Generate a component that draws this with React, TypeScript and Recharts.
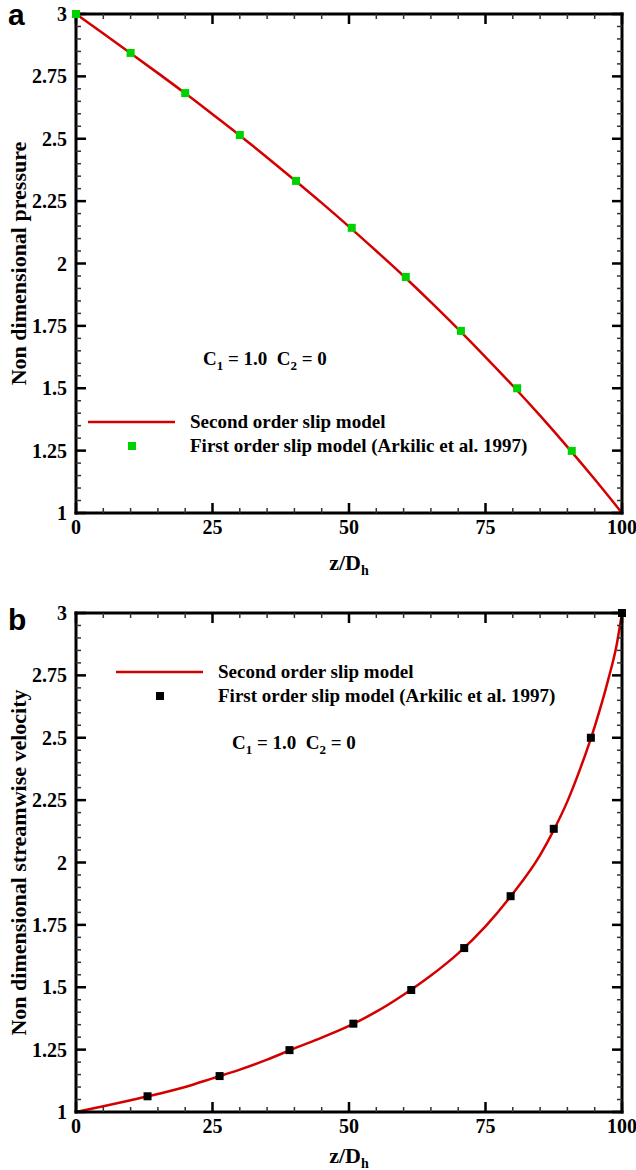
import React from "react";
import { ComposedChart, Line, Scatter, XAxis, YAxis, Legend } from "recharts";

// panel a: non dimensional pressure
const pressureCurveX = [0, 5, 10, 15, 20, 25, 30, 35, 40, 45, 50, 55, 60, 65, 70, 75, 80, 85, 90, 95, 100];
const pressureCurveY = [3, 2.922, 2.843, 2.763, 2.682, 2.598, 2.513, 2.425, 2.335, 2.243, 2.148, 2.05, 1.95, 1.845, 1.737, 1.625, 1.51, 1.39, 1.265, 1.135, 1];
const pressurePointX = [0, 10, 20, 30, 40.3, 50.5, 60.4, 70.5, 80.8, 90.8];
const pressurePointY = [3, 2.844, 2.683, 2.515, 2.331, 2.143, 1.946, 1.73, 1.5, 1.249];

// panel b: non dimensional streamwise velocity
const velocityCurveX = [0, 5, 10, 15, 20, 25, 30, 35, 40, 45, 50, 55, 60, 65, 70, 75, 80, 85, 87.5, 90, 92.5, 95, 97.5, 99, 100];
const velocityCurveY = [1, 1.023, 1.047, 1.072, 1.1, 1.135, 1.17, 1.21, 1.255, 1.298, 1.345, 1.402, 1.47, 1.547, 1.636, 1.744, 1.875, 2.03, 2.13, 2.245, 2.385, 2.545, 2.735, 2.87, 3];
const velocityPointX = [13.1, 26.3, 39.1, 50.8, 61.4, 71.1, 79.6, 87.5, 94.3, 100];
const velocityPointY = [1.063, 1.144, 1.248, 1.354, 1.489, 1.657, 1.865, 2.135, 2.5, 3];

const xTicks = [0, 25, 50, 75, 100];
const yTicks = [1, 1.25, 1.5, 1.75, 2, 2.25, 2.5, 2.75, 3];
const xMinor = Array.from({ length: 21 }, (_, i) => i * 5);
const yMinor = Array.from({ length: 41 }, (_, i) => +(1 + i * 0.05).toFixed(2));

const seriesNames = ["Second order slip model", "First order slip model (Arkilic et al. 1997)"];

const FONT = '"Liberation Serif", "Times New Roman", serif';
const RED = "#d40000";

const frame = { stroke: "#000", strokeWidth: 3, strokeLinecap: "square" as const };
const labelTick = { fill: "#000", fontSize: 20, fontWeight: "bold", fontFamily: FONT };

const isMajorX = (v: number) => v % 25 === 0;
const isMajorY = (v: number) => Math.abs(v * 4 - Math.round(v * 4)) < 1e-6;

// tick mark positions along the four edges of the frame
const bottomMarks = xMinor.map((v) => ({ x: v, y: 1, major: isMajorX(v) }));
const topMarks = xMinor.map((v) => ({ x: v, y: 3, major: isMajorX(v) }));
const leftMarks = yMinor.map((v) => ({ x: 0, y: v, major: isMajorY(v) }));
const rightMarks = yMinor.map((v) => ({ x: 100, y: v, major: isMajorY(v) }));

// inward tick drawn as a small filled bar starting at the frame
const markShape = (side: string) => (props: any) => {
  const major = !!(props.payload && props.payload.major);
  const len = major ? 10 : 5;
  const w = major ? 2.5 : 1.5;
  const fill = major ? "#000" : "#333";
  const { cx, cy } = props;
  if (side === "bottom") return <rect x={cx - w / 2} y={cy - len} width={w} height={len} fill={fill} />;
  if (side === "top") return <rect x={cx - w / 2} y={cy} width={w} height={len} fill={fill} />;
  if (side === "left") return <rect x={cx} y={cy - w / 2} width={len} height={w} fill={fill} />;
  return <rect x={cx - len} y={cy - w / 2} width={len} height={w} fill={fill} />;
};

const XTitle = (offset: number) => (props: any) => {
  const vb = props.viewBox || { x: 76, y: 513, width: 546, height: 72 };
  return (
    <text x={vb.x + vb.width / 2} y={vb.y + offset} textAnchor="middle" fontFamily={FONT} fontWeight="bold" fontSize={22} fill="#000">
      z/D<tspan dy={5} fontSize={14}>h</tspan>
    </text>
  );
};

const Square = (color: string) => (props: any) => (
  <rect x={props.cx - 4} y={props.cy - 4} width={8} height={8} fill={color} />
);

type PanelProps = {
  top: number;
  height: number;
  axisHeight: number;
  titleOffset: number;
  letter: string;
  letterTop: number;
  yTitle: string;
  curveX: number[];
  curveY: number[];
  pointX: number[];
  pointY: number[];
  pointColor: string;
  legendX: number;
  legendY: number;
  noteX: number;
  noteY: number;
};

function Panel(p: PanelProps) {
  const curve = p.curveX.map((x, i) => ({ x, y: p.curveY[i] }));
  const points = p.pointX.map((x, i) => ({ x, y: p.pointY[i] }));
  const XT = XTitle(p.titleOffset);

  const legendContent = () => (
    <svg width={636} height={p.height} style={{ display: "block" }}>
      <line x1={p.legendX} y1={p.legendY} x2={p.legendX + 87} y2={p.legendY} stroke={RED} strokeWidth={2.5} />
      <rect x={p.legendX + 40} y={p.legendY + 20} width={8} height={8} fill={p.pointColor} />
      <g fontFamily={FONT} fontWeight="bold" fontSize={19} fill="#000">
        <text x={p.legendX + 102} y={p.legendY + 6}>{seriesNames[0]}</text>
        <text x={p.legendX + 102} y={p.legendY + 30}>{seriesNames[1]}</text>
        <text x={p.noteX} y={p.noteY + 7} style={{ whiteSpace: "pre" }}>
          C<tspan dy={5} fontSize={13}>1</tspan>
          <tspan dy={-5}> = 1.0  C</tspan>
          <tspan dy={5} fontSize={13}>2</tspan>
          <tspan dy={-5}> = 0</tspan>
        </text>
      </g>
    </svg>
  );

  return (
    <div style={{ position: "absolute", left: 0, top: p.top, width: 636, height: p.height, fontFamily: FONT }}>
      <ComposedChart width={636} height={p.height} margin={{ top: 14, right: 14, bottom: 0, left: 0 }}>
        <XAxis
          xAxisId="main"
          dataKey="x"
          type="number"
          domain={[0, 100]}
          ticks={xTicks}
          interval={0}
          height={p.axisHeight}
          axisLine={false}
          tickLine={false}
          tickSize={0}
          tickMargin={7}
          tick={labelTick}
          label={<XT />}
        />
        <XAxis xAxisId="top" type="number" domain={[0, 100]} orientation="top" mirror height={1} tick={false} tickLine={false} axisLine={frame} />
        <XAxis xAxisId="bottom" type="number" domain={[0, 100]} orientation="bottom" mirror height={1} tick={false} tickLine={false} axisLine={frame} />
        <YAxis
          yAxisId="main"
          dataKey="y"
          type="number"
          domain={[1, 3]}
          ticks={yTicks}
          interval={0}
          width={76}
          axisLine={false}
          tickLine={false}
          tickSize={0}
          tickMargin={9}
          tick={labelTick}
          label={{
            value: p.yTitle,
            angle: -90,
            position: "insideLeft",
            offset: 18,
            style: { textAnchor: "middle", fontSize: 22, fontWeight: "bold", fill: "#000", fontFamily: FONT },
          }}
        />
        <YAxis yAxisId="left" type="number" domain={[1, 3]} orientation="left" mirror width={1} tick={false} tickLine={false} axisLine={frame} />
        <YAxis yAxisId="right" type="number" domain={[1, 3]} orientation="right" mirror width={1} tick={false} tickLine={false} axisLine={frame} />
        <Line
          xAxisId="main"
          yAxisId="main"
          data={curve}
          dataKey="y"
          name={seriesNames[0]}
          type="monotone"
          stroke={RED}
          strokeWidth={2.5}
          dot={false}
          isAnimationActive={false}
        />
        <Scatter xAxisId="main" yAxisId="main" data={bottomMarks} name="ticks-b" fill="#000" shape={markShape("bottom")} legendType="none" isAnimationActive={false} />
        <Scatter xAxisId="main" yAxisId="main" data={topMarks} name="ticks-t" fill="#000" shape={markShape("top")} legendType="none" isAnimationActive={false} />
        <Scatter xAxisId="main" yAxisId="main" data={leftMarks} name="ticks-l" fill="#000" shape={markShape("left")} legendType="none" isAnimationActive={false} />
        <Scatter xAxisId="main" yAxisId="main" data={rightMarks} name="ticks-r" fill="#000" shape={markShape("right")} legendType="none" isAnimationActive={false} />
        <Scatter
          xAxisId="main"
          yAxisId="main"
          data={points}
          name={seriesNames[1]}
          fill={p.pointColor}
          shape={Square(p.pointColor)}
          isAnimationActive={false}
        />
        <Legend
          layout="vertical"
          align="center"
          verticalAlign="middle"
          content={legendContent}
          wrapperStyle={{ position: "absolute", left: 0, top: 0, width: 636, height: p.height, pointerEvents: "none" }}
        />
      </ComposedChart>
      <div
        style={{
          position: "absolute",
          left: 8,
          top: p.letterTop,
          fontFamily: '"Liberation Sans", Arial, sans-serif',
          fontWeight: "bold",
          fontSize: 30,
          lineHeight: "20px",
        }}
      >
        {p.letter}
      </div>
    </div>
  );
}

export default function App() {
  return (
    <div style={{ position: "absolute", left: 0, top: 0, width: 636, height: 1170, overflow: "hidden", background: "#fff" }}>
      <Panel
        top={0}
        height={585}
        axisHeight={72}
        titleOffset={57}
        letter="a"
        letterTop={5}
        yTitle="Non dimensional pressure"
        curveX={pressureCurveX}
        curveY={pressureCurveY}
        pointX={pressurePointX}
        pointY={pressurePointY}
        pointColor="#00d200"
        legendX={88}
        legendY={422}
        noteX={203}
        noteY={358}
      />
      <Panel
        top={599}
        height={571}
        axisHeight={58}
        titleOffset={51}
        letter="b"
        letterTop={11}
        yTitle="Non dimensional streamwise velocity"
        curveX={velocityCurveX}
        curveY={velocityCurveY}
        pointX={velocityPointX}
        pointY={velocityPointY}
        pointColor="#000"
        legendX={116}
        legendY={73}
        noteX={232}
        noteY={143}
      />
    </div>
  );
}
